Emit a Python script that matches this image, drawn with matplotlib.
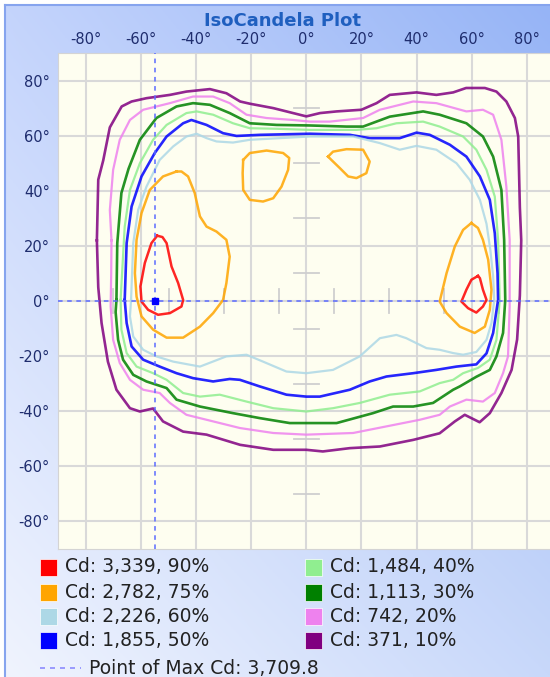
import numpy as np
import matplotlib
matplotlib.use("Agg")
import matplotlib.pyplot as plt
from matplotlib.patches import Rectangle
from matplotlib.lines import Line2D

W, H = 550, 677

# contour levels (legend)
level_labels = ["Cd: 3,339, 90%", "Cd: 2,782, 75%", "Cd: 2,226, 60%", "Cd: 1,855, 50%",
                "Cd: 1,484, 40%", "Cd: 1,113, 30%", "Cd: 742, 20%", "Cd: 371, 10%"]
level_colors = ["#ff0000", "#ffa500", "#add8e6", "#0000ff",
                "#90ee90", "#008000", "#ee82ee", "#800080"]
max_label = "Point of Max Cd: 3,709.8"
max_point = (-55, 0)

tick_vals = [-80, -60, -40, -20, 0, 20, 40, 60, 80]

# isocandela lines, (horizontal angle, vertical angle) in degrees
cd_10 = [(-76, 22), (-75.5, 44), (-73.7, 51), (-71.3, 63), (-67, 70.6), (-63.4, 72.4), (-58, 73.6),
         (-49.5, 74.8), (-43.5, 76), (-35, 76.9), (-29, 75.4), (-24, 72.4), (-20.5, 71.6), (-12, 70),
         (-4.8, 68.2), (0, 67), (5, 68.2), (11, 68.8), (20, 69.4), (25.5, 71.8), (30.3, 74.8), (40, 75.7),
         (47.2, 74.8), (53.3, 75.7), (58, 77.3), (64.8, 77.3), (69, 76), (72.6, 72.4), (75.7, 66.4),
         (76.9, 59.7), (77.5, 34), (78, 22), (77.5, 2), (76.5, -14), (74.5, -25), (70.8, -33.4),
         (66.6, -40.7), (62.9, -44), (57.5, -41.3), (53.9, -43.7), (48.4, -48), (38.8, -50.4),
         (26.7, -52.8), (15.8, -53.4), (6, -54.6), (0, -54), (-12, -54), (-24, -52.2), (-36.2, -48.5),
         (-44.7, -47.4), (-52, -43.7), (-55.6, -39), (-60.4, -40.1), (-64, -38.9), (-68.9, -32.2),
         (-72, -22), (-74.3, -8), (-75.5, 5)]
cd_20 = [(-70.7, 22), (-71.3, 33), (-70.1, 47.6), (-67.7, 58.5), (-64, 65.7), (-59.2, 69.4), (-49.5, 71.8),
         (-41.1, 74.2), (-33.8, 74.2), (-27.8, 71.8), (-21.7, 67.6), (-14.4, 66.4), (-4.8, 65.7),
         (1.3, 65.1), (8.5, 65.1), (20.6, 66.4), (26.7, 69.4), (38.8, 72.4), (47.2, 71.8), (58.1, 68.8),
         (64.1, 69.4), (67.8, 67.6), (70.8, 58.5), (72.6, 41.5), (73.8, 22.2), (73.8, -2), (73.2, -20.1),
         (71.4, -26.2), (68.4, -33.4), (64.1, -36.5), (58.1, -35.8), (52.1, -38.3), (48.4, -41.3),
         (41.2, -43.1), (29.1, -45.5), (17, -47.9), (0, -48.5), (-12, -47.9), (-24.1, -46.1),
         (-36.2, -43.1), (-43.5, -41.3), (-49.5, -37), (-53.2, -33.4), (-59.2, -32.2), (-64, -28.6),
         (-67.7, -22.5), (-70.1, -14.1), (-71, -2), (-70.8, 10)]
cd_30 = [(-68.9, 0.4), (-68.6, 21), (-67.1, 39.2), (-64.5, 48), (-60.4, 58.5), (-54.4, 66.4),
         (-47.1, 70.6), (-41.1, 71.8), (-35, 71.2), (-27.8, 68.2), (-20.5, 64.5), (-10.8, 63.9),
         (1.3, 63.7), (14.6, 63.3), (20.6, 63.3), (30.3, 66.9), (42.4, 68.8), (48.4, 67.6), (58.1, 64.5),
         (64.1, 59.7), (67.8, 52.4), (70.8, 40.3), (71.8, 22.2), (72.2, 0.4), (71.4, -11.6), (69, -20.1),
         (66.6, -25), (61.7, -27.5), (55.7, -31), (53.3, -32.2), (46, -37), (38.8, -38.3), (31.5, -38.3),
         (24.2, -40.7), (11, -44.3), (0, -44.3), (-6, -44.3), (-16.9, -42.5), (-26.6, -40.7),
         (-38.6, -38.3), (-47.1, -35.8), (-50.7, -31.6), (-58, -29.2), (-62.8, -26.8), (-66.5, -21.3),
         (-68.3, -14.1), (-69.2, -4)]
cd_40 = [(-67.4, 0.4), (-65.9, 27), (-64, 40.3), (-60.4, 50), (-55.6, 58.5), (-50.7, 63.9), (-43.5, 68.2),
         (-39.8, 68.8), (-33.8, 67.6), (-26.6, 64.5), (-20.5, 62.7), (-10.8, 62.5), (1.3, 62.1),
         (18.2, 62.1), (25.5, 62.7), (32.7, 64.5), (42.4, 65.1), (48.4, 63.3), (56.9, 59.7), (61.7, 54.9),
         (65.4, 47.6), (68.4, 37.9), (69.6, 22.2), (70.2, 0.4), (69, -14.1), (66.6, -21.3), (62.3, -24.3),
         (56.9, -26.2), (53.3, -28.6), (48.4, -29.8), (41.2, -32.8), (30.3, -34), (19.4, -37), (9.7, -38.9),
         (0, -40.1), (-12, -38.9), (-21.7, -36.5), (-31.4, -34), (-38.6, -34.7), (-44.7, -33.4),
         (-50.7, -28.6), (-55.6, -26.2), (-61.6, -23.8), (-65.2, -18.9), (-67.1, -10.4)]
cd_50 = [(-65.9, 0.4), (-65.2, 21), (-63.4, 34.3), (-59.8, 45.2), (-55, 53.7), (-50.7, 59.7), (-44.7, 64.5),
         (-41.7, 65.7), (-36.2, 63.9), (-30.2, 60.9), (-25.3, 59.9), (-16.9, 60.3), (1.3, 60.7),
         (15.8, 60.3), (23, 59.1), (33.9, 59.1), (40, 61.1), (44.8, 60.3), (52.1, 56.7), (58.1, 52.4),
         (63, 45.2), (66.6, 36.7), (68.4, 24.6), (69.4, 10.1), (69.6, 0.4), (67.8, -11.6), (65.4, -19),
         (61.7, -23), (54.5, -23.8), (47.2, -25), (38.8, -26.2), (29.1, -27.4), (23, -29.2), (15.8, -32.2),
         (4.9, -34.7), (0, -34.7), (-7.2, -34), (-16.9, -31), (-24.1, -28.6), (-27.8, -28.3),
         (-33.8, -29.2), (-41.1, -28), (-47.1, -26.2), (-53.2, -23.8), (-59.2, -21.3), (-63.4, -16.5),
         (-65.2, -8)]
cd_60 = [(-63.6, 0.4), (-62.8, 21), (-61, 33.1), (-58, 41.5), (-53.2, 51.2), (-48.3, 56.1), (-43.5, 59.7),
         (-39.8, 60.7), (-36.2, 59.1), (-32.6, 57.9), (-26.6, 57.5), (-20.5, 58.5), (1.3, 59.7),
         (17, 59.7), (26.7, 57.3), (33.9, 54.9), (40, 56.3), (47.2, 54.9), (54.5, 50), (59.3, 44),
         (63, 36.7), (65.4, 28), (66.8, 18.5), (67.8, 8.9), (68.2, 0.4), (67.2, -8), (65.4, -14.1),
         (61.7, -18.5), (56.9, -19.5), (53.3, -18.9), (48.4, -17.7), (43.6, -17.1), (36.3, -13.5),
         (32.7, -12.3), (26.7, -13.5), (19.4, -20.1), (9.7, -25), (0, -26.2), (-7.2, -25.6),
         (-15.7, -22), (-21.7, -19.5), (-29, -20.1), (-38.6, -23.8), (-48.3, -22), (-54.4, -20.1),
         (-59.2, -17.7), (-62.8, -12.9), (-64, -5.6)]
cd_75_a = [(-47.1, 47), (-52, 45.2), (-56.8, 40.3), (-59.8, 31.9), (-61.6, 22.2), (-62.2, 10.1),
           (-61.6, 1.6), (-59.8, -5.6), (-55.6, -10.4), (-50.7, -13.3), (-44.7, -13.3), (-38.6, -9.3),
           (-33.8, -4.4), (-30.2, 0.4), (-29, 6.5), (-27.8, 16.1), (-29, 22.2), (-32.6, 25.2),
           (-36.2, 27), (-38.6, 30.7), (-40.5, 39.2), (-42.9, 45.2), (-45.3, 47)]
cd_75_b = [(-22.9, 51.2), (-20.5, 53.7), (-14.4, 54.6), (-8.4, 53.7), (-6.2, 51.9), (-6.6, 47.6),
           (-9, 41.5), (-12, 37.3), (-15.7, 36.1), (-20.5, 36.7), (-22.9, 40.3), (-23.1, 46.4)]
cd_75_c = [(7.9, 52.4), (9.7, 54.2), (14.6, 55.1), (20.6, 54.9), (23, 50.6), (21.8, 46.4), (18.2, 44.6),
           (15.2, 45.2), (12.2, 48.2), (9.1, 51.2)]
cd_75_d = [(59.9, 28.3), (56.9, 25.8), (53.9, 19.8), (50.9, 10.1), (48.4, -0.2), (50.9, -4.4),
           (55.7, -9.3), (61.1, -11.6), (64.8, -9.3), (66.6, -3.2), (67.2, 4.1), (66, 15), (64.1, 22.2),
           (62.3, 26.5)]
cd_90_a = [(-54.1, 23.7), (-56.2, 21), (-58.6, 13.8), (-60.2, 5.3), (-59.8, -0.2), (-57.4, -3.2),
           (-53.8, -5), (-49.5, -4.4), (-45.3, -2), (-44.7, 0.4), (-46.5, 6.5), (-48.9, 12.5),
           (-50.7, 21), (-52.2, 23.2)]
cd_90_b = [(62.3, 9.1), (59.9, 7.7), (58.1, 4.1), (56.3, -0.2), (58.7, -2.6), (61.7, -4.2), (64.1, -2),
           (65.4, 0.4), (64.1, 4.1), (63, 8.3)]

contours = [
    ([cd_10], level_colors[7], 1.9),
    ([cd_20], level_colors[6], 1.6),
    ([cd_30], level_colors[5], 1.9),
    ([cd_40], level_colors[4], 1.6),
    ([cd_50], level_colors[3], 1.9),
    ([cd_60], level_colors[2], 1.6),
    ([cd_75_a, cd_75_b, cd_75_c, cd_75_d], level_colors[1], 1.8),
    ([cd_90_a, cd_90_b], level_colors[0], 1.8),
]

fig = plt.figure(figsize=(W / 100, H / 100), dpi=100)
fig.patch.set_facecolor("white")

# gradient panel behind everything
bg = fig.add_axes([5 / W, 0, 1 - 5 / W, 1 - 5 / H], zorder=-10)
tl = np.array([196, 212, 252]) / 255
tr = np.array([150, 180, 246]) / 255
bl = np.array([240, 244, 254]) / 255
br = np.array([200, 216, 250]) / 255
u = np.linspace(0, 1, 200)[None, :, None]
v = np.linspace(0, 1, 200)[:, None, None]
grad = (1 - v) * ((1 - u) * tl + u * tr) + v * ((1 - u) * bl + u * br)
bg.imshow(grad, aspect="auto", extent=[0, 1, 0, 1], origin="upper")
bg.set_xlim(0, 1)
bg.set_ylim(0, 1)
bg.axis("off")
fig.add_artist(Line2D([5 / W, 5 / W], [0, 1 - 5 / H], color="#86a4ee", lw=1.5))
fig.add_artist(Line2D([5 / W, 1], [1 - 5 / H, 1 - 5 / H], color="#86a4ee", lw=1.5))

ax = fig.add_axes([58.3 / W, (H - 549) / H, 496 / W, 496 / H])
ax.set_facecolor("#fefef0")
ax.set_xlim(-90, 90)
ax.set_ylim(-90, 90)
ax.set_xticks(tick_vals)
ax.set_yticks(tick_vals)
ax.set_xticklabels([f"{t}°" for t in tick_vals])
ax.set_yticklabels([f"{t}°" for t in tick_vals])
ax.xaxis.tick_top()
ax.tick_params(axis="both", length=0, labelsize=10.5, labelcolor="#1f2d6e")
ax.tick_params(axis="x", pad=4.5)
ax.tick_params(axis="y", pad=6)
ax.grid(True, color="#d9d9d9", lw=1.5)
ax.set_axisbelow(True)
for s in ax.spines.values():
    s.set_color("#d4d4d4")

# minor cross ticks on the centre axes
for t in [-70, -50, -30, -10, 10, 30, 50, 70]:
    ax.plot([-4.5, 4.5], [t, t], color="#cfcfcf", lw=1.3, zorder=1)
    ax.plot([t, t], [-4.5, 4.5], color="#cfcfcf", lw=1.3, zorder=1)

for pieces, col, lw in contours:
    for pts in pieces:
        arr = np.array(pts + [pts[0]])
        ax.plot(arr[:, 0], arr[:, 1], color=col, lw=lw, alpha=0.85, zorder=3,
                solid_joinstyle="round")

ax.axhline(max_point[1], color="#5b6bff", lw=1.1, dashes=(3, 3), zorder=4)
ax.axvline(max_point[0], color="#5b6bff", lw=1.1, dashes=(3, 3), zorder=4)
ax.plot(*max_point, "s", color="#0000ff", ms=5, zorder=5)

fig.text(282 / W, 1 - 21.5 / H, "IsoCandela Plot", ha="center", va="center",
         fontsize=13, fontweight="bold", color="#1f5fbf")

# legend
row_y = [567, 592, 616, 640]
for i, (lab, col) in enumerate(zip(level_labels, level_colors)):
    col_x = 40 if i < 4 else 305
    y = row_y[i % 4]
    fig.add_artist(Rectangle((col_x / W, (H - y - 8.5) / H), 17 / W, 17 / H,
                             facecolor=col, edgecolor="white", lw=0.5, transform=fig.transFigure))
    fig.text((col_x + 25) / W, (H - y) / H, lab, ha="left", va="center",
             fontsize=13.5, color="#222222")
fig.add_artist(Line2D([40 / W, 81 / W], [(H - 668) / H] * 2, color="#8c8cff", lw=1.2,
                      dashes=(3, 3)))
fig.text(89 / W, (H - 668) / H, max_label, ha="left", va="center", fontsize=13.5, color="#222222")

fig.savefig("out.png", dpi=100)
